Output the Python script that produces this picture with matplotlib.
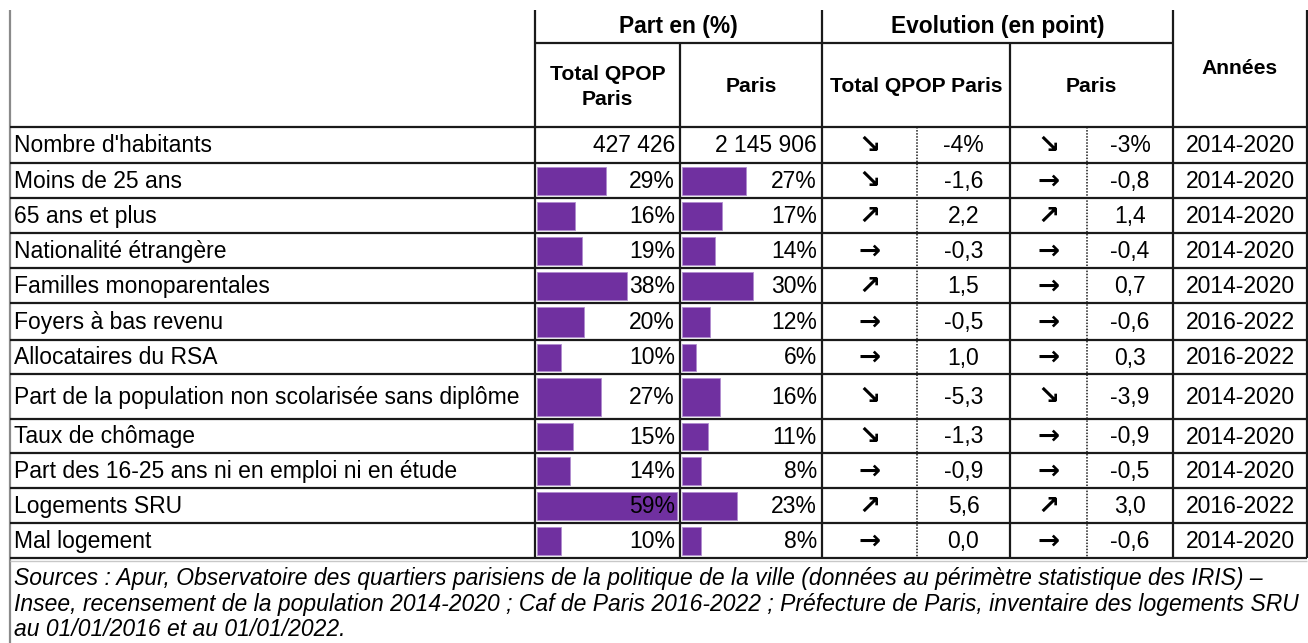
import matplotlib
matplotlib.use("Agg")
import matplotlib.pyplot as plt

plt.rcParams['font.family'] = ['Liberation Sans', 'DejaVu Sans']

labels = ["Nombre d'habitants", "Moins de 25 ans", "65 ans et plus", "Nationalité étrangère",
          "Familles monoparentales", "Foyers à bas revenu", "Allocataires du RSA",
          "Part de la population non scolarisée sans diplôme", "Taux de chômage",
          "Part des 16-25 ans ni en emploi ni en étude", "Logements SRU", "Mal logement"]
habitants_qpop = "427 426"
habitants_paris = "2 145 906"
part_qpop = [None, 29, 16, 19, 38, 20, 10, 27, 15, 14, 59, 10]
part_paris = [None, 27, 17, 14, 30, 12, 6, 16, 11, 8, 23, 8]
arrow_qpop = ["↘", "↘", "↗", "→", "↗", "→", "→", "↘", "↘", "→", "↗", "→"]
evol_qpop = ["-4%", "-1,6", "2,2", "-0,3", "1,5", "-0,5", "1,0", "-5,3", "-1,3", "-0,9", "5,6", "0,0"]
arrow_paris = ["↘", "→", "↗", "→", "→", "→", "→", "↘", "→", "→", "↗", "→"]
evol_paris = ["-3%", "-0,8", "1,4", "-0,4", "0,7", "-0,6", "0,3", "-3,9", "-0,9", "-0,5", "3,0", "-0,6"]
annees = ["2014-2020"] * 5 + ["2016-2022", "2016-2022"] + ["2014-2020"] * 3 + ["2016-2022", "2014-2020"]
header_top = "Part en (%)"
header_evol = "Evolution (en point)"
sub_headers = ["Total QPOP\nParis", "Paris", "Total QPOP Paris", "Paris", "Années"]
sources = ["Sources : Apur, Observatoire des quartiers parisiens de la politique de la ville (données au périmètre statistique des IRIS) –",
           "Insee, recensement de la population 2014-2020 ; Caf de Paris 2016-2022 ; Préfecture de Paris, inventaire des logements SRU",
           "au 01/01/2016 et au 01/01/2022."]

W, H = 1308, 643
fig = plt.figure(figsize=(W / 100, H / 100), dpi=100)
ax = fig.add_axes([0, 0, 1, 1])
ax.set_xlim(0, W)
ax.set_ylim(H, 0)
ax.axis('off')

# geometry (pixels)
xL, xA, xB, xC, xD, xE, xR = 10, 535, 680, 822, 1010, 1173, 1307
xdot1, xdot2 = 917, 1087
yT, yH1 = 10, 43
row_edges = [127, 163, 198, 233, 268, 303, 340, 374, 419, 453, 488, 523, 558]
yBot = H
fs = 16.5
fsh = 16.4
fss = 15.2
purple = "#7030A0"
lc = "#1a1a1a"

def vline(x, y0, y1, color=lc, lw=1.6, ls='-'):
    ax.plot([x, x], [y0, y1], color=color, lw=lw, ls=ls, solid_capstyle='butt')

def hline(y, x0, x1, color=lc, lw=1.6, ls='-'):
    ax.plot([x0, x1], [y, y], color=color, lw=lw, ls=ls, solid_capstyle='butt')

# borders
vline(xL, yT, yBot, color="#8a8a8a", lw=1.6)
for x in [xA, xC, xE, xR]:
    vline(x, yT, row_edges[-1])
vline(xB, yH1, row_edges[-1])
vline(xD, yH1, row_edges[-1])
hline(yH1, xA, xE)
for y in row_edges:
    hline(y, xL, xR)
hline(row_edges[-1] + 3, xL, xR, color="#c8c8c8", lw=1.0)
for x in [xdot1, xdot2]:
    vline(x, row_edges[0], row_edges[-1], ls=(0, (1, 1)), lw=1.1)

# headers
ax.text((xA + xC) / 2, 27, header_top, ha='center', va='center', fontsize=fsh, fontweight='bold')
ax.text((xC + xE) / 2, 27, header_evol, ha='center', va='center', fontsize=fsh, fontweight='bold')
sub_x = [(xA + xB) / 2, (xB + xC) / 2, (xC + xD) / 2, (xD + xE) / 2, (xE + xR) / 2]
sub_y = [87, 86, 86, 86, 68]
for t, x, y in zip(sub_headers, sub_x, sub_y):
    ax.text(x, y, t, ha='center', va='center', fontsize=fss, fontweight='bold', linespacing=1.4)

# rows
scale = (xB - xA - 5) / max(v for v in part_qpop if v is not None)
for i, lab in enumerate(labels):
    y0, y1 = row_edges[i], row_edges[i + 1]
    yc = (y0 + y1) / 2 + 1
    ax.text(14, yc, lab, ha='left', va='center', fontsize=fs)
    if part_qpop[i] is None:
        ax.text(xB - 5, yc, habitants_qpop, ha='right', va='center', fontsize=fs)
        ax.text(xC - 5, yc, habitants_paris, ha='right', va='center', fontsize=fs)
    else:
        bh = (y1 - y0) - 7
        ax.barh([yc - 1], [part_qpop[i] * scale], left=xA + 2, height=bh, color=purple,
                edgecolor="#b08cd0", linewidth=0.6)
        ax.barh([yc - 1], [part_paris[i] * scale], left=xB + 2, height=bh, color=purple,
                edgecolor="#b08cd0", linewidth=0.6)
        ax.text(xB - 5, yc, f"{part_qpop[i]}%", ha='right', va='center', fontsize=fs, zorder=5)
        ax.text(xC - 5, yc, f"{part_paris[i]}%", ha='right', va='center', fontsize=fs, zorder=5)
    ax.text((xC + xdot1) / 2, yc, arrow_qpop[i], ha='center', va='center', fontsize=19,
            fontweight='bold', family=['DejaVu Sans'])
    ax.text((xdot1 + xD) / 2, yc, evol_qpop[i], ha='center', va='center', fontsize=fs)
    ax.text((xD + xdot2) / 2, yc, arrow_paris[i], ha='center', va='center', fontsize=19,
            fontweight='bold', family=['DejaVu Sans'])
    ax.text((xdot2 + xE) / 2, yc, evol_paris[i], ha='center', va='center', fontsize=fs)
    ax.text((xE + xR) / 2, yc, annees[i], ha='center', va='center', fontsize=fs)

for j, line in enumerate(sources):
    ax.text(14, 578 + 26 * j, line, ha='left', va='center', fontsize=16.45, style='italic')

fig.savefig("out.png", dpi=100)
